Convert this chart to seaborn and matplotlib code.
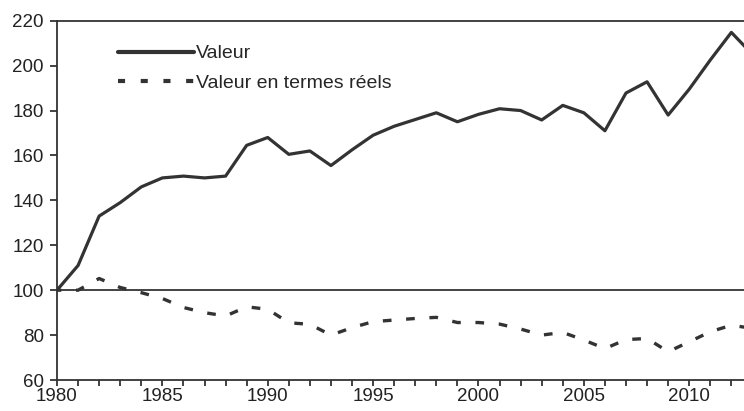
import numpy as np
import pandas as pd
import matplotlib
matplotlib.use("Agg")
import matplotlib.pyplot as plt
import seaborn as sns

# Données (indice 1980 = 100)
annees = list(range(1980, 2014))
valeur = [100, 111, 133, 139, 146, 150, 150.8, 150, 150.8, 164.5, 168, 160.5,
          162, 155.5, 162.5, 169, 173, 176, 179, 175, 178.3, 180.8, 180, 175.8,
          182.3, 179, 171, 187.8, 192.8, 178, 189.5, 202.5, 214.8, 205]
valeur_reelle = [100, 100, 105.2, 101.2, 98.9, 96.3, 92.3, 90, 88.5, 92.6, 91.5,
                 85.5, 84.8, 80, 83.3, 86, 86.7, 87.4, 87.9, 85.6, 85.6, 84.9,
                 82.7, 80, 81.2, 77.8, 74, 78, 78.5, 72.6, 77, 81.5, 84.4, 83]
labels = ["Valeur", "Valeur en termes réels"]

sns.set_style("ticks")
plt.rcParams["font.family"] = ["Liberation Sans", "DejaVu Sans"]

df = pd.DataFrame({"annee": annees, "valeur": valeur, "reel": valeur_reelle})

fig = plt.figure(figsize=(7.44, 4.11), dpi=100)
ax = fig.add_axes([0.0766, 0.0754, 0.9234, 0.8742])

sns.lineplot(data=df, x="annee", y="valeur", ax=ax, color="#333333", lw=2.3,
             label=labels[0], solid_capstyle="round")
sns.lineplot(data=df, x="annee", y="reel", ax=ax, color="#333333", lw=2.4,
             label=labels[1])
# tirets centrés sur chaque année
ax.lines[-1].set_linestyle((1.3, (2.6, 4.4)))

ax.axhline(100, color="#222222", lw=1.2, zorder=1)

ax.set_xlim(1980, 2012.6)
ax.set_ylim(60, 220)
ax.set_xticks(range(1980, 2013))
ax.set_xticklabels([str(a) if a % 5 == 0 else "" for a in range(1980, 2013)])
ax.set_yticks(range(60, 221, 20))
ax.set_xlabel("")
ax.set_ylabel("")
ax.tick_params(axis="both", labelsize=13.5, width=1.2, colors="#222222")
ax.tick_params(axis="x", length=4, pad=2)
ax.tick_params(axis="y", length=5, pad=4.5)

for s in ["left", "bottom", "top"]:
    ax.spines[s].set_linewidth(1.3)
    ax.spines[s].set_color("#333333")
ax.spines["right"].set_visible(False)

leg = ax.legend(loc="upper left", bbox_to_anchor=(0.089, 0.933), frameon=False,
                borderaxespad=0, borderpad=0, handlelength=3.9, handletextpad=0.1,
                labelspacing=0.6, fontsize=14)
for h in leg.get_lines():
    h.set_linewidth(3)
leg.get_lines()[1].set_linestyle((0, (1.7, 3.75)))

fig.savefig("out.png", dpi=100)
